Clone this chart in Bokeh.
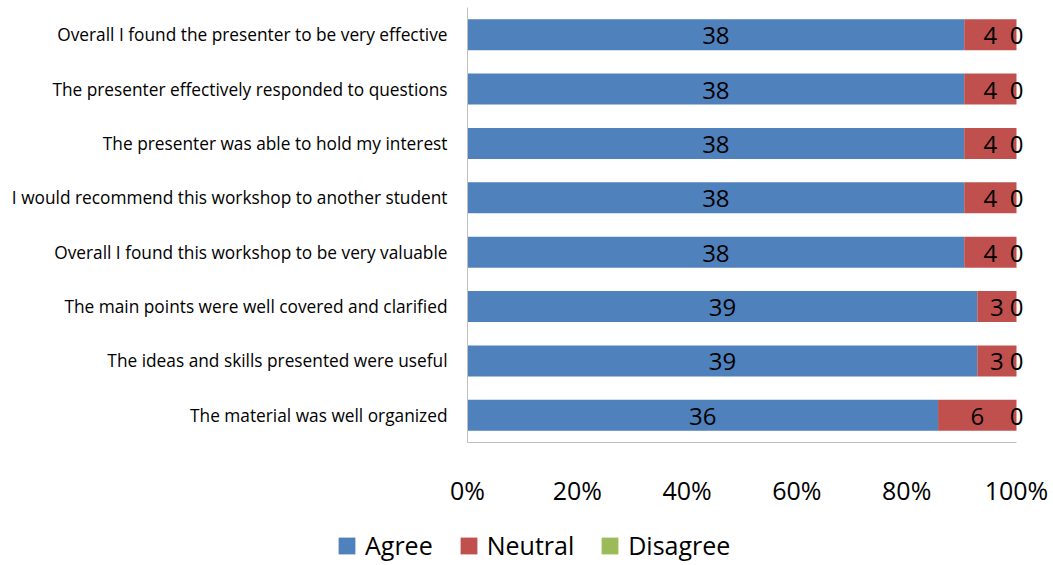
from bokeh.plotting import figure
from bokeh.models import ColumnDataSource, Legend, LegendItem, FixedTicker, NumeralTickFormatter, LabelSet, Range1d
from bokeh.core.properties import value
from bokeh.embed import file_html
from bokeh.resources import INLINE

categories = [
    "The material was well organized",
    "The ideas and skills presented were useful",
    "The main points were well covered and clarified",
    "Overall I found this workshop to be very valuable",
    "I would recommend this workshop to another student",
    "The presenter was able to hold my interest",
    "The presenter effectively responded to questions",
    "Overall I found the presenter to be very effective",
]
agree = [36, 39, 39, 38, 38, 38, 38, 38]
neutral = [6, 3, 3, 4, 4, 4, 4, 4]
disagree = [0, 0, 0, 0, 0, 0, 0, 0]
series = ["Agree", "Neutral", "Disagree"]
colors = ["#4F81BD", "#C0504D", "#9BBB59"]
ticks = [0, 0.2, 0.4, 0.6, 0.8, 1.0]

FONT = "Open Sans"

# layout (pixels)
W, H = 1053, 565
PLOT_LEFT, PLOT_RIGHT, PLOT_TOP, PLOT_BOTTOM = 467, 1016, 7, 442

n = len(categories)
ypos = list(range(n))
totals = [a + b + c for a, b, c in zip(agree, neutral, disagree)]
a_p = [a / t for a, t in zip(agree, totals)]
n_p = [b / t for b, t in zip(neutral, totals)]
d_p = [c / t for c, t in zip(disagree, totals)]

src = ColumnDataSource(dict(
    y=ypos,
    a0=[0] * n, a1=a_p,
    n0=a_p, n1=[a + b for a, b in zip(a_p, n_p)],
    d0=[a + b for a, b in zip(a_p, n_p)], d1=[a + b + c for a, b, c in zip(a_p, n_p, d_p)],
    a_mid=[a / 2 for a in a_p],
    n_mid=[a + b / 2 for a, b in zip(a_p, n_p)],
    d_mid=[a + b + c / 2 for a, b, c in zip(a_p, n_p, d_p)],
    a_txt=[str(v) for v in agree],
    n_txt=[str(v) for v in neutral],
    d_txt=[str(v) for v in disagree],
))

# map the plot area (PLOT_LEFT..PLOT_RIGHT, PLOT_TOP..PLOT_BOTTOM) onto 0..1 and -0.5..n-0.5,
# while the frame covers the whole canvas
px_x = (PLOT_RIGHT - PLOT_LEFT)
px_y = (PLOT_BOTTOM - PLOT_TOP) / n
x_range = Range1d(-PLOT_LEFT / px_x, 1 + (W - PLOT_RIGHT) / px_x)
y_range = Range1d(-0.5 - (H - PLOT_BOTTOM) / px_y, n - 0.5 + PLOT_TOP / px_y)

p = figure(width=W, height=H, x_range=x_range, y_range=y_range,
           output_backend="svg", toolbar_location=None,
           min_border_left=0, min_border_right=0, min_border_top=0, min_border_bottom=0)

r_a = p.hbar(y="y", left="a0", right="a1", height=0.57, color=colors[0], line_color=None, source=src)
r_n = p.hbar(y="y", left="n0", right="n1", height=0.57, color=colors[1], line_color=None, source=src)
r_d = p.hbar(y="y", left="d0", right="d1", height=0.57, color=colors[2], line_color=None, source=src)

for xcol, tcol in [("a_mid", "a_txt"), ("n_mid", "n_txt"), ("d_mid", "d_txt")]:
    lbl = LabelSet(x=xcol, y="y", text=tcol, source=src, text_align="center", text_baseline="middle",
                   text_font=value(FONT), text_font_size="24px", text_color="#000000", y_offset=-1)
    p.add_layout(lbl)

p.xgrid.visible = False
p.ygrid.visible = False
p.outline_line_color = None

p.xaxis.fixed_location = -0.5
p.xaxis.bounds = (0, 1)
p.xaxis.ticker = FixedTicker(ticks=ticks)
p.xaxis.formatter = NumeralTickFormatter(format="0%")
p.xaxis.major_label_text_font = FONT
p.xaxis.major_label_text_font_size = "25px"
p.xaxis.major_label_text_color = "#000000"
p.xaxis.major_label_standoff = 24
p.xaxis.major_tick_line_color = None
p.xaxis.minor_tick_line_color = None
p.xaxis.axis_line_color = "#BFBFBF"

p.yaxis.fixed_location = 0
p.yaxis.bounds = (-0.5, n - 0.5)
p.yaxis.ticker = FixedTicker(ticks=ypos)
p.yaxis.major_label_overrides = {i: c for i, c in zip(ypos, categories)}
p.yaxis.major_label_text_font = FONT
p.yaxis.major_label_text_font_size = "17.3px"
p.yaxis.major_label_text_color = "#000000"
p.yaxis.major_label_standoff = 14
p.yaxis.major_tick_line_color = None
p.yaxis.minor_tick_line_color = None
p.yaxis.axis_line_color = "#BFBFBF"

legend = Legend(items=[LegendItem(label=s, renderers=[r]) for s, r in zip(series, [r_a, r_n, r_d])],
                orientation="horizontal", location=(336, 3),
                label_text_font=FONT, label_text_font_size="25px", label_text_color="#000000",
                glyph_width=21, glyph_height=21, spacing=25, padding=0, margin=0,
                label_standoff=8, border_line_color=None, background_fill_alpha=0)
p.add_layout(legend, "center")

open("out.html", "w").write(file_html(p, INLINE))
